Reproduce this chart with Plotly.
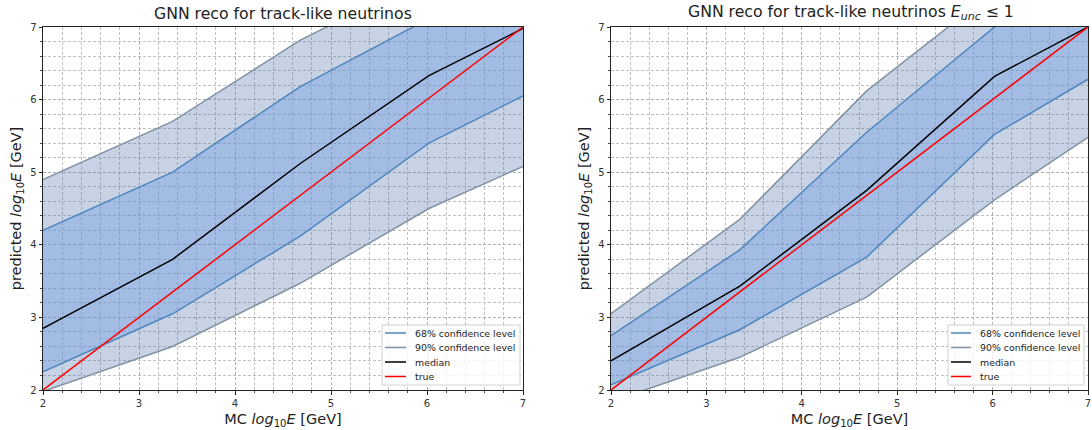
import plotly.graph_objects as go

# Energy bins (MC log10 E) at which quantiles were evaluated
energy_bins = [2.0, 3.35, 4.68, 6.02, 7.0]

# All track-like neutrinos
all_q05 = [1.98, 2.60, 3.47, 4.50, 5.08]
all_q16 = [2.25, 3.05, 4.12, 5.40, 6.05]
all_median = [2.85, 3.80, 5.12, 6.33, 6.98]
all_q84 = [4.20, 5.00, 6.18, 7.13, 7.80]
all_q95 = [4.90, 5.70, 6.82, 7.70, 8.30]

# Track-like neutrinos with E_unc <= 1
cut_q05 = [1.84, 2.45, 3.28, 4.62, 5.48]
cut_q16 = [2.07, 2.83, 3.83, 5.52, 6.28]
cut_median = [2.40, 3.43, 4.75, 6.32, 7.00]
cut_q84 = [2.75, 3.93, 5.55, 7.00, 7.80]
cut_q95 = [3.05, 4.35, 6.12, 7.50, 8.30]

true_line = [2, 7]

titles = [
    "GNN reco for track-like neutrinos",
    "GNN reco for track-like neutrinos <i>E</i><sub><i>unc</i></sub> ≤ 1",
]
legend_labels = ["68% confidence level", "90% confidence level", "median", "true"]

W, H = 1092, 430
FONT = "DejaVu Sans"
FILL90 = "rgba(70,110,170,0.30)"
FILL68 = "rgba(108,155,225,0.40)"
LINE68 = "#4f86bd"
LINE90 = "#8192a3"
legend_colors = [LINE68, LINE90, "black", "red"]


def px(x):
    return x / W


def py(y):
    return 1 - y / H


fig = go.Figure()

panels = [
    ("x", "y", all_q05, all_q16, all_median, all_q84, all_q95),
    ("x2", "y2", cut_q05, cut_q16, cut_median, cut_q84, cut_q95),
]

for xa, ya, q05, q16, med, q84, q95 in panels:
    common = dict(xaxis=xa, yaxis=ya, hoverinfo="skip", showlegend=False)
    # shaded bands
    fig.add_trace(go.Scatter(x=energy_bins, y=q05, mode="lines", line=dict(width=0), **common))
    fig.add_trace(go.Scatter(x=energy_bins, y=q95, mode="lines", line=dict(width=0),
                             fill="tonexty", fillcolor=FILL90, **common))
    fig.add_trace(go.Scatter(x=energy_bins, y=q16, mode="lines", line=dict(width=0), **common))
    fig.add_trace(go.Scatter(x=energy_bins, y=q84, mode="lines", line=dict(width=0),
                             fill="tonexty", fillcolor=FILL68, **common))
    # band edges, median and identity line
    for ys, col in [(q84, LINE68), (q16, LINE68), (q95, LINE90), (q05, LINE90),
                    (med, "black")]:
        fig.add_trace(go.Scatter(x=energy_bins, y=ys, mode="lines",
                                 line=dict(color=col, width=1.5), **common))
    fig.add_trace(go.Scatter(x=true_line, y=true_line, mode="lines",
                             line=dict(color="red", width=1.5), **common))

axis_style = dict(
    range=[2, 7],
    dtick=1,
    automargin=False,
    ticklabeloverflow="allow",
    showline=True,
    linecolor="#222",
    linewidth=1,
    mirror=True,
    ticks="outside",
    ticklen=3.5,
    tickcolor="#222",
    tickfont=dict(family=FONT, size=10, color="#333"),
    showgrid=True,
    gridcolor="#b0b0b0",
    griddash="3px,2px",
    gridwidth=1,
    zeroline=False,
    minor=dict(dtick=0.2, showgrid=True, gridcolor="#c0c0c0", griddash="3px,2px",
               ticks="outside", ticklen=2, tickcolor="#444"),
)

ydom = [py(390), py(27)]
xlabel = "MC <i>log</i><sub>10</sub><i>E</i> [GeV]"
ylabel = "predicted <i>log</i><sub>10</sub><i>E</i> [GeV]"
label_font = dict(family=FONT, size=14.5, color="#222")

fig.update_layout(
    width=W,
    height=H,
    margin=dict(l=0, r=0, t=0, b=0),
    paper_bgcolor="white",
    plot_bgcolor="white",
    font=dict(family=FONT, color="#222"),
    showlegend=False,
    xaxis=dict(axis_style, domain=[px(43), px(523)], anchor="y",
               title=dict(text=xlabel, font=label_font, standoff=6)),
    yaxis=dict(axis_style, domain=ydom, anchor="x",
               title=dict(text=ylabel, font=label_font, standoff=5)),
    xaxis2=dict(axis_style, domain=[px(611), px(1088)], anchor="y2",
                title=dict(text=xlabel, font=label_font, standoff=6)),
    yaxis2=dict(axis_style, domain=ydom, anchor="x2",
                title=dict(text=ylabel, font=label_font, standoff=5)),
)

# panel titles
for i, (x0, x1) in enumerate([(43, 523), (611, 1090)]):
    fig.add_annotation(text=titles[i], xref="paper", yref="paper",
                       x=px((x0 + x1) / 2), y=py(27), yshift=2,
                       xanchor="center", yanchor="bottom", showarrow=False,
                       font=dict(family=FONT, size=15.7, color="#222"))

# legend boxes (lower right of each panel)
legend_boxes = [
    dict(left=382, right=520, top=325, bottom=385, line0=385, line1=406, text=413),
    dict(left=948, right=1084, top=325, bottom=385, line0=951, line1=971, text=978),
]
entry_rows = [333, 347.5, 362, 376.5]

for box in legend_boxes:
    fig.add_shape(type="rect", xref="paper", yref="paper",
                  x0=px(box["left"]), x1=px(box["right"]),
                  y0=py(box["bottom"]), y1=py(box["top"]),
                  line=dict(color="#d0d0d0", width=1),
                  fillcolor="rgba(255,255,255,0.8)", layer="above")
    for label, col, yr in zip(legend_labels, legend_colors, entry_rows):
        fig.add_shape(type="line", xref="paper", yref="paper",
                      x0=px(box["line0"]), x1=px(box["line1"]), y0=py(yr), y1=py(yr),
                      line=dict(color=col, width=1.5), layer="above")
        fig.add_annotation(text=label, xref="paper", yref="paper",
                           x=px(box["text"]), y=py(yr), xanchor="left", yanchor="middle",
                           showarrow=False,
                           font=dict(family=FONT, size=9.4, color="#222"))

fig.write_html("out.html")
